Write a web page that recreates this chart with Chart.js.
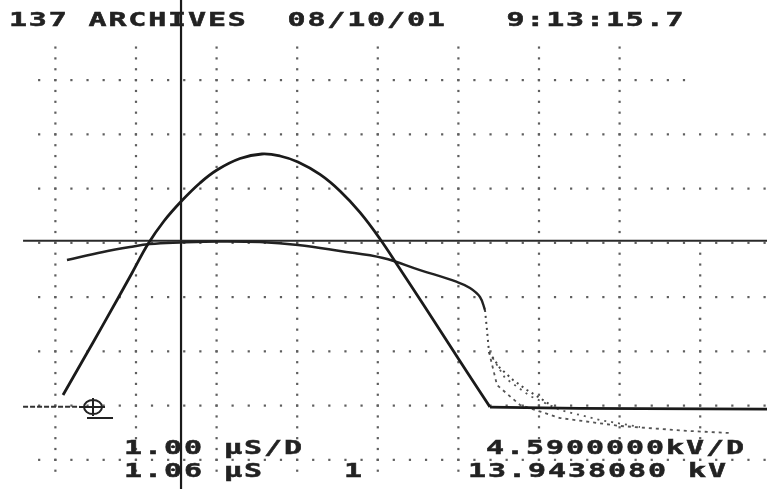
<!DOCTYPE html>
<html lang="en">
  <head>
    <meta charset="UTF-8" />
    <title>137 ARCHIVES</title>
    <script src="https://cdn.jsdelivr.net/npm/chart.js@4.4.1/dist/chart.umd.min.js"></script>
    <style>
      html,
      body {
        margin: 0;
        padding: 0;
        background: white;
      }
      canvas {
        display: block;
      }
    </style>
  </head>
  <body>
    <canvas id="scope" width="767" height="489"></canvas>
    <script>
      // scope settings
      const timePerDiv = 1.0; // uS
      const voltsPerDiv = 4.59; // kV
      const cursorTime = 1.06; // uS
      const cursorKv = 13.943808; // kV

      // graticule lines (uS / kV)
      const gridTimes = [-0.5, 0.5, 1.5, 2.5, 3.5, 4.5, 5.5, 6.5, 7.5];
      const gridKv = [-4.59, 0, 4.59, 9.18, 13.77, 18.36, 22.95, 27.54];

      // trace 1 : voltage bump
      const bumpTime = [-0.404, -0.156, 0.092, 0.452, 0.65, 0.849, 1.06, 1.295, 1.506, 1.792, 2.064, 2.288, 2.511, 2.784, 3.032, 3.28, 3.529, 3.777, 4.062, 4.335, 4.608, 4.893];
      const bumpKv = [0.89, 3.85, 6.82, 11.21, 13.66, 15.61, 17.26, 18.83, 19.93, 20.9, 21.28, 21.11, 20.6, 19.55, 18.15, 16.34, 14.09, 11.55, 8.59, 5.71, 2.83, -0.13];
      const flatTime = [4.893, 6.0, 8.33];
      const flatKv = [-0.13, -0.25, -0.3];

      // trace 2 : flat top then collapse
      const edgeTime = [-0.355, 0.092, 0.427, 0.675, 1.047, 1.543, 2.04, 2.511, 3.032, 3.566, 4.025, 4.484, 4.645, 4.769, 4.831];
      const edgeKv = [12.31, 12.99, 13.41, 13.66, 13.79, 13.88, 13.83, 13.58, 13.07, 12.48, 11.46, 10.45, 9.94, 9.18, 8.08];

      // dotted decay after collapse
      const tailTime = [4.831, 4.856, 4.881, 5.017, 5.179, 5.352, 5.514, 5.663];
      const tailKv = [8.08, 6.39, 4.53, 3.17, 2.16, 1.31, 0.63, -0.04];
      const fanATime = [4.881, 5.079, 5.39, 5.762, 6.258, 6.754];
      const fanAKv = [4.53, 2.33, 0.8, -0.38, -1.23, -1.82];
      const fanBTime = [4.881, 4.98, 5.266, 5.762, 6.506, 7.375, 7.871];
      const fanBKv = [4.53, 1.73, 0.04, -1.06, -1.73, -2.16, -2.33];

      // ground reference
      const groundTime = [-0.9, -0.2];
      const groundKv = [-0.1, -0.1];
      const groundMark = -0.032;

      const pts = (xs, ys) => xs.map((x, i) => ({ x: x, y: ys[i] }));

      const graticule = {
        id: "graticule",
        beforeDatasetsDraw(chart) {
          const { ctx, scales } = chart;
          const x = scales.x;
          const y = scales.y;
          ctx.save();
          ctx.fillStyle = "#5e5e5e";
          const step = voltsPerDiv / 5;
          gridTimes.forEach((t, i) => {
            const px = x.getPixelForValue(t);
            const top = i === gridTimes.length - 1 ? cursorKv - step : 33 * step;
            for (let m = -6; m * step <= top + 0.01; m++) {
              const py = y.getPixelForValue(m * step);
              ctx.fillRect(px - 1, py - 1, 2.2, 2.2);
            }
          });
          gridKv.forEach((v, j) => {
            const py = y.getPixelForValue(v);
            const last = j === gridKv.length - 1 ? 39 : 44;
            for (let n = -1; n <= last; n++) {
              const px = x.getPixelForValue(-0.5 + n * timePerDiv / 5);
              ctx.fillRect(px - 1.1, py - 1, 2.2, 2.2);
            }
          });
          ctx.restore();
        },
      };

      // dot-matrix style: fixed pitch, wide glyphs
      function drawMono(ctx, text, left, mid, pitch) {
        for (let i = 0; i < text.length; i++) {
          const ch = text[i];
          if (ch === " ") continue;
          ctx.save();
          ctx.translate(left + i * pitch + pitch / 2, mid);
          ctx.scale(1.5, 1);
          ctx.fillText(ch, 0, 0);
          ctx.strokeText(ch, 0, 0);
          ctx.restore();
        }
      }

      const readouts = {
        id: "readouts",
        afterDraw(chart) {
          const { ctx, scales } = chart;
          const x = scales.x;
          const y = scales.y;
          ctx.save();

          // ground marker
          const gx = x.getPixelForValue(groundMark);
          const gy = y.getPixelForValue(0) + 1.5;
          ctx.strokeStyle = "#222";
          ctx.lineWidth = 2;
          ctx.beginPath();
          ctx.ellipse(gx, gy, 9, 7, 0, 0, Math.PI * 2);
          ctx.moveTo(gx, gy - 9);
          ctx.lineTo(gx, gy + 9);
          ctx.moveTo(gx - 14, gy);
          ctx.lineTo(gx + 12, gy);
          ctx.moveTo(gx - 6, gy + 11);
          ctx.lineTo(gx + 20, gy + 11);
          ctx.stroke();

          ctx.fillStyle = "#222";
          ctx.strokeStyle = "#222";
          ctx.lineWidth = 0.5;
          ctx.font = "bold 20px 'DejaVu Sans Mono'";
          ctx.textAlign = "center";
          ctx.textBaseline = "middle";
          drawMono(ctx, "137 ARCHIVES  08/10/01   9:13:15.7", 8, 21, 19.9);
          drawMono(ctx, "1.00 \u00b5S/D", 123, 449, 20);
          drawMono(ctx, "1.06 \u00b5S    1", 123, 472, 20);
          drawMono(ctx, "4.5900000kV/D", 485, 449, 20);
          drawMono(ctx, "13.9438080 kV", 467, 472, 20);
          ctx.restore();
        },
      };

      const ctx = document.getElementById("scope");
      new Chart(ctx, {
        type: "scatter",
        data: {
          datasets: [
            {
              data: pts(bumpTime, bumpKv),
              showLine: true,
              borderColor: "#1a1a1a",
              borderWidth: 2.8,
              tension: 0.4,
              pointRadius: 0,
            },
            {
              data: pts(flatTime, flatKv),
              showLine: true,
              borderColor: "#1a1a1a",
              borderWidth: 2.8,
              pointRadius: 0,
            },
            {
              data: pts(edgeTime, edgeKv),
              showLine: true,
              borderColor: "#222",
              borderWidth: 2.4,
              tension: 0.4,
              pointRadius: 0,
            },
            {
              data: pts(tailTime, tailKv),
              showLine: true,
              borderColor: "#444",
              borderWidth: 2,
              borderDash: [2, 4],
              pointRadius: 0,
            },
            {
              data: pts(fanATime, fanAKv),
              showLine: true,
              borderColor: "#555",
              borderWidth: 1.8,
              borderDash: [2, 5],
              pointRadius: 0,
            },
            {
              data: pts(fanBTime, fanBKv),
              showLine: true,
              borderColor: "#555",
              borderWidth: 1.8,
              borderDash: [3, 4],
              pointRadius: 0,
            },
            {
              data: pts([-0.9, 8.33], [cursorKv, cursorKv]),
              showLine: true,
              borderColor: "#2a2a2a",
              borderWidth: 2,
              pointRadius: 0,
            },
            {
              data: pts([cursorTime, cursorTime], [-8, 35]),
              showLine: true,
              borderColor: "#1a1a1a",
              borderWidth: 2.2,
              pointRadius: 0,
            },
            {
              data: pts(groundTime, groundKv),
              showLine: true,
              borderColor: "#333",
              borderWidth: 2,
              borderDash: [5, 2],
              pointRadius: 0,
            },
          ],
        },
        plugins: [graticule, readouts],
        options: {
          responsive: false,
          animation: false,
          layout: { padding: 0 },
          plugins: {
            legend: { display: false },
            tooltip: { enabled: false },
          },
          scales: {
            x: { type: "linear", min: -1.186, max: 8.33, display: false },
            y: { type: "linear", min: -7.065, max: 34.31, display: false },
          },
        },
      });
    </script>
  </body>
</html>
